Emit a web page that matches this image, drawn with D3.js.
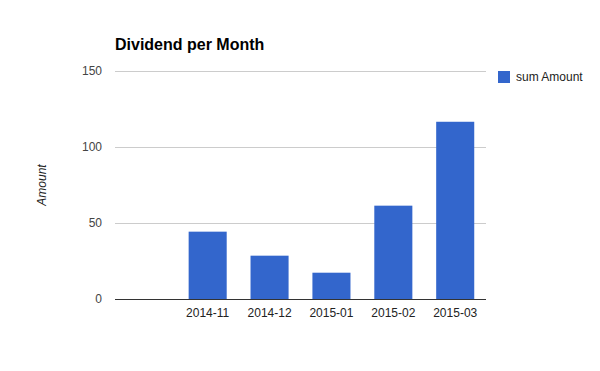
<!DOCTYPE html>
<html>
<head>
<meta charset="utf-8">
<script src="https://cdn.jsdelivr.net/npm/d3@7"></script>
<style>
  body { margin: 0; background: #fff; }
  text { font-family: "Liberation Sans", Arial, sans-serif; }
</style>
</head>
<body>
<div id="chart"></div>
<script>
var months = ["", "2014-11", "2014-12", "2015-01", "2015-02", "2015-03"];
var amounts = [0, 44.3, 28.5, 17.3, 61.4, 116.6];
var yTicks = [0, 50, 100, 150];
var seriesName = "sum Amount";

var width = 600, height = 371;
var plotLeft = 115, plotRight = 486, plotTop = 71, plotBottom = 299;

var svg = d3.select("#chart").append("svg")
    .attr("width", width)
    .attr("height", height);

var x = d3.scaleBand()
    .domain(months)
    .range([plotLeft, plotRight])
    .paddingInner(0.385)
    .paddingOuter(0.19);

var y = d3.scaleLinear()
    .domain([0, 150])
    .range([plotBottom, plotTop]);

// gridlines
svg.append("g").selectAll("line")
    .data(yTicks.filter(function(d) { return d > 0; }))
  .enter().append("line")
    .attr("x1", plotLeft).attr("x2", plotRight)
    .attr("y1", function(d) { return Math.round(y(d)) + 0.5; })
    .attr("y2", function(d) { return Math.round(y(d)) + 0.5; })
    .style("stroke", "#cccccc");

// y tick labels
svg.append("g").selectAll("text")
    .data(yTicks)
  .enter().append("text")
    .attr("x", 102)
    .attr("y", function(d) { return y(d) + 4; })
    .attr("text-anchor", "end")
    .style("font-size", "12px")
    .style("fill", "#444")
    .text(function(d) { return d; });

// bars
svg.append("g").selectAll("rect")
    .data(amounts)
  .enter().append("rect")
    .attr("x", function(d, i) { return x(months[i]); })
    .attr("width", x.bandwidth())
    .attr("y", function(d) { return y(d); })
    .attr("height", function(d) { return y(0) - y(d); })
    .style("fill", "#3366cc");

// baseline
svg.append("line")
    .attr("x1", plotLeft).attr("x2", plotRight)
    .attr("y1", y(0) + 0.5).attr("y2", y(0) + 0.5)
    .style("stroke", "#333");

// x labels
svg.append("g").selectAll("text")
    .data(months)
  .enter().append("text")
    .attr("x", function(d) { return x(d) + x.bandwidth() / 2; })
    .attr("y", 317)
    .attr("text-anchor", "middle")
    .style("font-size", "12px")
    .style("fill", "#222")
    .text(function(d) { return d; });

// title
svg.append("text")
    .attr("x", 115)
    .attr("y", 50)
    .style("font-size", "16px")
    .style("font-weight", "bold")
    .style("fill", "#000")
    .text("Dividend per Month");

// y axis title
svg.append("text")
    .attr("transform", "translate(46," + ((plotTop + plotBottom) / 2) + ") rotate(-90)")
    .attr("text-anchor", "middle")
    .style("font-size", "12px")
    .style("font-style", "italic")
    .style("fill", "#222")
    .text("Amount");

// legend
var legend = svg.append("g").attr("transform", "translate(498,71)");
legend.append("rect")
    .attr("width", 12).attr("height", 12)
    .style("fill", "#3366cc");
legend.append("text")
    .attr("x", 18)
    .attr("y", 10)
    .style("font-size", "12px")
    .style("fill", "#222")
    .text(seriesName);
</script>
</body>
</html>
